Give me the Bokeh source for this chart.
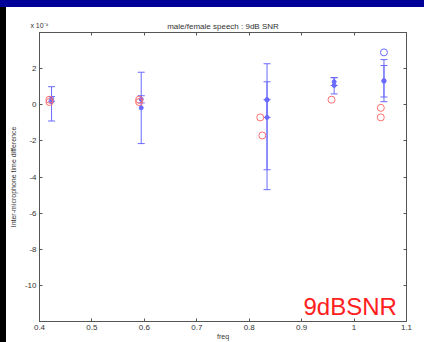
from bokeh.plotting import figure
from bokeh.models import Whisker, TeeHead, ColumnDataSource, Label, FixedTicker, Div, LinearAxis
from bokeh.layouts import column, row
from bokeh.embed import file_html
from bokeh.resources import INLINE

# ---- texts ----
title_text = "male/female speech : 9dB SNR"
x_label = "freq"
y_label = "Inter-microphone time difference"
scale_text = "x 10\u207b\u2074"
snr_text = "9dBSNR"

# ---- ticks ----
x_ticks = [0.4, 0.5, 0.6, 0.7, 0.8, 0.9, 1.0, 1.1]
x_tick_labels = ["0.4", "0.5", "0.6", "0.7", "0.8", "0.9", "1", "1.1"]
y_ticks = [-10, -8, -6, -4, -2, 0, 2]
y_tick_labels = ["-10", "-8", "-6", "-4", "-2", "0", "2"]

# ---- data (units of 1e-4) ----
freq_a = [0.423, 0.594, 0.834, 0.962, 1.057]
mean_a = [0.17, -0.17, 0.28, 1.07, 1.34]
lower_a = [-0.90, -2.15, -0.70, 0.60, 0.17]
upper_a = [1.00, 1.80, 1.27, 1.50, 2.50]

freq_b = [0.423, 0.594, 0.834, 0.962, 1.057]
mean_b = [0.33, 0.30, -0.70, 1.27, 1.30]
lower_b = [0.20, 0.10, -3.60, 1.07, 0.43]
upper_b = [0.45, 0.50, 2.27, 1.50, 2.17]

freq_c = [0.834]
mean_c = [0.28]
lower_c = [-4.70]
upper_c = [0.28]

red_freq = [0.419, 0.419, 0.590, 0.590, 0.821, 0.825, 0.957, 1.051, 1.051]
red_val = [0.28, 0.15, 0.28, 0.15, -0.70, -1.70, 0.28, -0.17, -0.70]

blue_out_freq = [1.057]
blue_out_val = [2.90]

BLUE = "#6a6aff"
RED = "#ff6e6e"
TXT = "#333333"
AX = "#555555"
FONT = "Liberation Sans"

p = figure(width=418, height=335, x_range=(0.4, 1.1), y_range=(-12, 4),
           output_backend="svg", toolbar_location=None,
           min_border_left=32, min_border_right=18, min_border_top=25, min_border_bottom=20,
           title=title_text)
p.title.text_font = FONT
p.title.text_font_size = "8px"
p.title.text_font_style = "normal"
p.title.text_color = TXT
p.title.align = "center"
p.title.standoff = -24
p.xgrid.visible = False
p.ygrid.visible = False
p.outline_line_color = AX
p.background_fill_color = "white"
p.border_fill_color = "white"

bottom_axis = p.below[0]
left_axis = p.left[0]
top_axis = LinearAxis(axis_label=scale_text, axis_label_align="start")
right_axis = LinearAxis()
p.add_layout(top_axis, "above")
p.add_layout(right_axis, "right")

for ax in (bottom_axis, left_axis, top_axis, right_axis):
    ax.major_label_text_font = FONT
    ax.major_label_text_font_size = "8px"
    ax.major_label_text_color = TXT
    ax.axis_label_text_font = FONT
    ax.axis_label_text_font_size = "7px"
    ax.axis_label_text_font_style = "normal"
    ax.axis_label_text_color = TXT
    ax.major_tick_in = 3
    ax.major_tick_out = 0
    ax.minor_tick_in = 0
    ax.minor_tick_out = 0
    ax.axis_line_color = AX
    ax.major_tick_line_color = AX

for ax in (bottom_axis, top_axis):
    ax.ticker = FixedTicker(ticks=x_ticks)
    ax.major_label_overrides = {t: l for t, l in zip(x_ticks, x_tick_labels)}
for ax in (left_axis, right_axis):
    ax.ticker = FixedTicker(ticks=y_ticks)
    ax.major_label_overrides = {t: l for t, l in zip(y_ticks, y_tick_labels)}

for ax in (top_axis, right_axis):
    ax.major_label_text_font_size = "1px"
    ax.major_label_text_color = None
    ax.major_label_standoff = 0
top_axis.axis_label_standoff = 4

bottom_axis.axis_label = x_label
bottom_axis.major_label_standoff = 3
bottom_axis.axis_label_standoff = 0

left_axis.axis_label = y_label
left_axis.major_label_standoff = 3
left_axis.axis_label_standoff = 5

# error bars
for fx, mv, lo, hi in ((freq_a, mean_a, lower_a, upper_a),
                       (freq_b, mean_b, lower_b, upper_b),
                       (freq_c, mean_c, lower_c, upper_c)):
    src = ColumnDataSource(dict(x=fx, m=mv, lo=lo, hi=hi))
    w = Whisker(base="x", lower="lo", upper="hi", source=src, dimension="height",
                line_color=BLUE, line_width=1,
                upper_head=TeeHead(size=7, line_color=BLUE, line_width=1),
                lower_head=TeeHead(size=7, line_color=BLUE, line_width=1))
    p.add_layout(w)
    p.scatter("x", "m", source=src, marker="circle", size=4, fill_color=BLUE,
              line_color=BLUE)

p.scatter(red_freq, red_val, marker="circle", size=7, fill_color=None,
          line_color=RED, line_width=1)
p.scatter(blue_out_freq, blue_out_val, marker="circle", size=7, fill_color=None,
          line_color=BLUE, line_width=1)

p.add_layout(Label(x=264, y=15, x_units="screen", y_units="screen", text=snr_text,
                   text_font=FONT, text_font_size="24px", text_color="#ff2020",
                   text_baseline="alphabetic"))

top_bar = Div(width=424, height=7, margin=0, styles={"background-color": "#000099"})
side_bar = Div(width=6, height=335, margin=0, styles={"background-color": "#000000"})
layout = column(top_bar, row(side_bar, p, spacing=0), spacing=0)

open("out.html", "w").write(file_html(layout, INLINE))
